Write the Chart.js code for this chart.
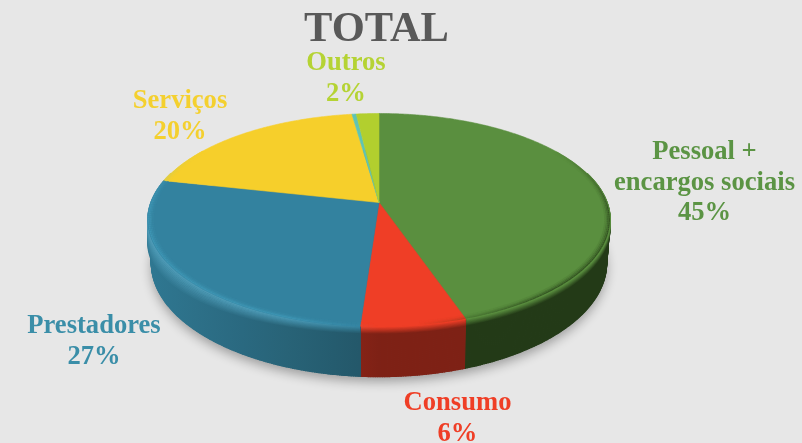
<!DOCTYPE html>
<html lang="pt">
<head>
    <meta charset="UTF-8">
    <title>TOTAL</title>
    <script src="https://cdn.jsdelivr.net/npm/chart.js"></script>
    <style>
        html, body { margin: 0; padding: 0; background: #e7e7e7; overflow: hidden; }
        canvas { display: block; }
    </style>
</head>
<body>
    <canvas id="grafico" width="802" height="443"></canvas>

    <script>
        const categorias = ['Pessoal + encargos sociais', 'Consumo', 'Prestadores', 'Serviços', 'Outros (fio)', 'Outros'];
        const valores = [44.8, 6.3, 27.4, 19.3, 0.35, 1.85];
        const coresTopo = ['#5a8f3f', '#ef3e26', '#33829f', '#f6cf2b', '#5fc4b4', '#b2cf2e'];
        const coresParede = ['#233a17', '#7e2115', '#235566', '#8a7416', '#2c6a60', '#5f6f14'];

        const rotulos = [
            { linhas: ['Pessoal +', 'encargos sociais', '45%'], cor: '#5b9444', x: 704.5, y: 159 },
            { linhas: ['Consumo', '6%'], cor: '#ef3e26', x: 457.5, y: 410 },
            { linhas: ['Prestadores', '27%'], cor: '#3a8ea8', x: 94, y: 333 },
            { linhas: ['Serviços', '20%'], cor: '#f4d02f', x: 180, y: 108 },
            { linhas: ['Outros', '2%'], cor: '#b5d334', x: 346, y: 70 }
        ];

        // elipse em perspectiva
        const RX = 228, RY = 103.6, K = 0.164, FUNDO = 42, ENCOLHE = 0.985, DESLOCA_X = 2.5;

        function hexRgb(h) {
            return [1, 3, 5].map(i => parseInt(h.substr(i, 2), 16));
        }
        function mistura(a, b, t) {
            const ca = hexRgb(a), cb = hexRgb(b);
            return '#' + ca.map((v, i) => Math.round(v + (cb[i] - v) * t).toString(16).padStart(2, '0')).join('');
        }

        function ponto(cx, cy, a, r, d) {
            const X = Math.cos(a) * r, Y = Math.sin(a) * r;
            const w = 1 - K * Y;
            const enc = d ? ENCOLHE : 1;
            return [cx + RX * X * enc / w, cy + RY * Y / w + (d ? FUNDO / w : 0)];
        }

        function corParede(i, X) {
            return mistura(coresParede[i], coresTopo[i], Math.max(0, -X) * 0.75);
        }

        function gradienteX(ctx, cx, corEm) {
            const g = ctx.createLinearGradient(cx - RX, 0, cx + RX, 0);
            for (let s = 0; s <= 10; s++) g.addColorStop(s / 10, corEm(s / 5 - 1));
            return g;
        }

        function angulosVisiveis(arco, passo) {
            const lista = [];
            for (let a = arco.startAngle; a < arco.endAngle; a += passo) {
                if (Math.sin(a) > -0.3) lista.push(a);
            }
            if (Math.sin(arco.endAngle) > -0.3) lista.push(arco.endAngle);
            return lista;
        }

        const pizza3d = {
            id: 'pizza3d',
            beforeDatasetDraw(chart, args) {
                const ctx = chart.ctx;
                const arcos = args.meta.data;
                const cx = arcos[0].x + DESLOCA_X, cy = arcos[0].y;
                const passo = Math.PI / 360;

                // sombra no fundo
                ctx.save();
                ctx.shadowColor = 'rgba(0,0,0,0.32)';
                ctx.shadowBlur = 11;
                ctx.shadowOffsetY = 5;
                ctx.fillStyle = '#33576a';
                ctx.beginPath();
                for (let a = 0; a < Math.PI * 2; a += passo * 2) {
                    const p = ponto(cx, cy, a, 1, true);
                    ctx.lineTo(p[0], p[1]);
                }
                ctx.closePath();
                ctx.fill();
                ctx.restore();

                // parede lateral
                arcos.forEach((arco, i) => {
                    const angulos = angulosVisiveis(arco, passo);
                    if (angulos.length < 2) return;
                    const gradParede = gradienteX(ctx, cx, X => corParede(i, X));
                    ctx.fillStyle = gradParede;
                    ctx.strokeStyle = gradParede;
                    ctx.lineWidth = 1.2;
                    ctx.lineJoin = 'round';
                    for (let n = 0; n < angulos.length - 1; n++) {
                        const p1 = ponto(cx, cy, angulos[n], 1, false), p2 = ponto(cx, cy, angulos[n + 1], 1, false);
                        const p3 = ponto(cx, cy, angulos[n + 1], 1, true), p4 = ponto(cx, cy, angulos[n], 1, true);
                        ctx.beginPath();
                        ctx.moveTo(p1[0], p1[1]);
                        ctx.lineTo(p2[0], p2[1]);
                        ctx.lineTo(p3[0], p3[1]);
                        ctx.lineTo(p4[0], p4[1]);
                        ctx.closePath();
                        ctx.fill();
                        ctx.stroke();
                    }

                    // chanfro logo abaixo da face de cima
                    const camadas = 10;
                    for (let j = camadas; j >= 0; j--) {
                        const t = j / camadas;
                        ctx.strokeStyle = gradienteX(ctx, cx, X => {
                            const claro = X < 0 ? mistura(coresTopo[i], '#8fdcf5', 0.3 * Math.min(1, -X * 2)) : coresTopo[i];
                            return mistura(claro, corParede(i, X), t);
                        });
                        ctx.lineWidth = 1.5;
                        ctx.lineCap = 'butt';
                        ctx.beginPath();
                        angulos.forEach(a => {
                            const p = ponto(cx, cy, a, 1, false);
                            const lado = Math.max(0, -Math.cos(a));
                            ctx.lineTo(p[0], p[1] + j * (0.7 + 1.6 * lado * lado));
                        });
                        ctx.stroke();
                    }
                });

                // face de cima
                arcos.forEach((arco, i) => {
                    ctx.fillStyle = coresTopo[i];
                    ctx.strokeStyle = coresTopo[i];
                    ctx.lineWidth = 0.6;
                    ctx.beginPath();
                    ctx.moveTo(cx, cy);
                    for (let a = arco.startAngle; a < arco.endAngle; a += passo) {
                        const p = ponto(cx, cy, a, 1, false);
                        ctx.lineTo(p[0], p[1]);
                    }
                    const pf = ponto(cx, cy, arco.endAngle, 1, false);
                    ctx.lineTo(pf[0], pf[1]);
                    ctx.closePath();
                    ctx.fill();
                    ctx.stroke();
                });

                // brilho a esquerda, escurecido a direita, na borda da face
                const aneis = [[0.996, 1], [0.99, 0.68], [0.984, 0.4], [0.978, 0.16]];
                arcos.forEach((arco, i) => {
                    aneis.forEach(anel => {
                        for (let a = arco.startAngle; a < arco.endAngle; a += passo * 2) {
                            const X = Math.cos(a), Y = Math.sin(a);
                            const forca = Math.min(1, Math.max(0, (Y + 0.55) * 1.6));
                            const alvo = X < 0 ? '#5cc8ea' : '#1c3010';
                            const qt = X < 0 ? 0.28 * forca * Math.min(1, -X * 3) : 0.6 * forca * Math.min(1, Math.max(0, X - 0.15) * 2);
                            if (qt <= 0.01) continue;
                            const p1 = ponto(cx, cy, a, anel[0], false);
                            const p2 = ponto(cx, cy, Math.min(a + passo * 2, arco.endAngle), anel[0], false);
                            ctx.strokeStyle = mistura(coresTopo[i], alvo, qt * anel[1]);
                            ctx.lineWidth = 1.5;
                            ctx.lineCap = 'butt';
                            ctx.beginPath();
                            ctx.moveTo(p1[0], p1[1]);
                            ctx.lineTo(p2[0], p2[1]);
                            ctx.stroke();
                        }
                    });
                });

                return false; // nao desenha a pizza plana
            },
            afterDatasetsDraw(chart) {
                const ctx = chart.ctx;
                ctx.save();
                ctx.font = 'bold 26.6px "Liberation Serif"';
                ctx.textAlign = 'center';
                ctx.textBaseline = 'alphabetic';
                rotulos.forEach(r => {
                    ctx.fillStyle = r.cor;
                    r.linhas.forEach((t, i) => ctx.fillText(t, r.x, r.y + i * 30.7));
                });
                ctx.restore();
            }
        };

        new Chart(document.getElementById('grafico'), {
            type: 'pie',
            data: {
                labels: categorias,
                datasets: [{ data: valores, backgroundColor: coresTopo, borderWidth: 0 }]
            },
            options: {
                responsive: false,
                animation: false,
                events: [],
                layout: { padding: { top: 5, left: 0, right: 49, bottom: 94 } },
                plugins: {
                    legend: { display: false },
                    tooltip: { enabled: false },
                    title: {
                        display: true,
                        text: 'TOTAL',
                        color: '#595959',
                        font: { family: '"Liberation Serif"', size: 42.5, weight: 'bold' },
                        padding: 0
                    }
                }
            },
            plugins: [pizza3d]
        });
    </script>
</body>
</html>
